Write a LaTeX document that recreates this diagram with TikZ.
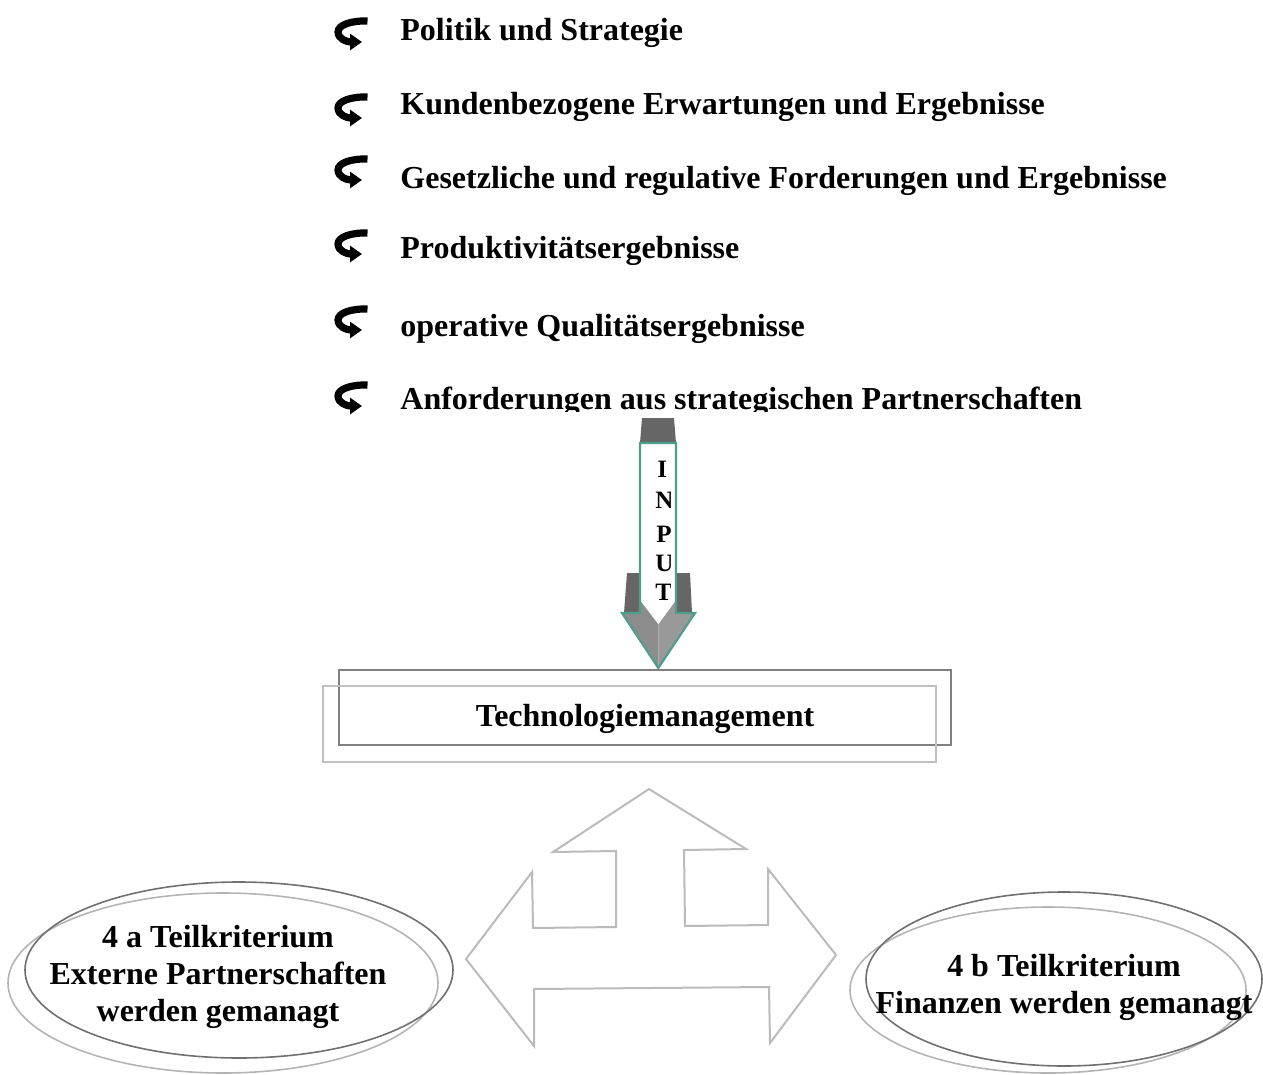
\documentclass[tikz,border=0pt]{standalone}
\usepackage{fontspec}
\setmainfont{Liberation Serif}
\usetikzlibrary{arrows.meta,shapes.geometric}
\definecolor{blockgray}{HTML}{666666}
\definecolor{headgray}{HTML}{8C8C8C}
\definecolor{headlight}{HTML}{999999}
\definecolor{tealline}{HTML}{4E9E8C}
\definecolor{boxdark}{HTML}{808080}
\definecolor{boxlight}{HTML}{C0C0C0}
\definecolor{arrowline}{HTML}{BBBBBB}
\definecolor{ovaldark}{HTML}{707070}
\definecolor{ovallight}{HTML}{B4B4B4}
\begin{document}
\begin{tikzpicture}[x=0.5pt,y=-0.5pt,
  lbl/.style={font=\fontsize{16}{18.5}\selectfont\bfseries, inner sep=0pt},
  itemtext/.style={lbl, anchor=base west},
  letter/.style={font=\fontsize{12.5}{14}\selectfont\bfseries, inner sep=0pt, anchor=base west},
  curlbullet/.pic={
    \draw[line width=3.6pt, line cap=butt, -{Triangle[length=6pt,width=8pt]}]
      (16.5,-11) .. controls (0,-11.5) and (-13,-7) .. (-13,0)
      .. controls (-13,7) and (-4,10) .. (11,10);
  },
  threeway/.style={draw=arrowline, line width=1pt, fill=white, line join=miter},
  ovalback/.style={draw=ovallight, line width=0.8pt},
  ovalfront/.style={draw=ovaldark, line width=0.8pt}
]
\useasboundingbox (0,0) rectangle (1263,1075);

% bullet list
\pic at (351,32) {curlbullet};
\pic at (351,108) {curlbullet};
\pic at (351,170) {curlbullet};
\pic at (351,244) {curlbullet};
\pic at (351,320) {curlbullet};
\pic at (351,396) {curlbullet};
\node[itemtext] (t1) at (400,41) {Politik und Strategie};
\node[itemtext] (t2) at (400,115) {Kundenbezogene Erwartungen und Ergebnisse};
\node[itemtext] (t3) at (400,189) {Gesetzliche und regulative Forderungen und Ergebnisse};
\node[itemtext] (t4) at (400,259) {Produktivitätsergebnisse};
\node[itemtext] (t5) at (400,336) {operative Qualitätsergebnisse};
\begin{scope}
  \clip (380,360) rectangle (1150,411);
  \node[itemtext] (t6) at (400,409) {Anforderungen aus strategischen Partnerschaften};
\end{scope}

% INPUT arrow
\fill[blockgray] (642,418) -- (674,418) -- (676,443) -- (640,443) -- cycle;
\fill[blockgray] (627,573) -- (640,573) -- (640,613) -- (624,613) -- cycle;
\fill[blockgray] (676,573) -- (690,573) -- (692,613) -- (676,613) -- cycle;
\fill[headgray] (622,613) -- (640,613) -- (640,600) -- (658.3,624) -- (658.3,668) -- cycle;
\fill[headlight] (658.3,624) -- (676,600) -- (676,613) -- (695,613) -- (658.3,668) -- cycle;
\fill[white] (640,443) -- (676,443) -- (676,600) -- (658.3,624) -- (640,600) -- cycle;
\draw[tealline, line width=1.1pt, line join=miter]
  (640,443) -- (640,613) -- (622,613) -- (658.3,668) -- (695,613) -- (676,613) -- (676,443) -- cycle;
\begin{scope}
  \clip (641,445) rectangle (670,610);
  \node[letter] (inI) at (657,477) {I};
  \node[letter] (inN) at (655,508) {N};
  \node[letter] (inP) at (656,542) {P};
  \node[letter] (inU) at (655,571) {U};
  \node[letter] (inT) at (655,600) {T};
\end{scope}

% Technologiemanagement box
\draw[boxdark, line width=1pt] (339,670) rectangle (951,745);
\draw[boxlight, line width=1pt] (323,686) rectangle (936,762);
\node[lbl, anchor=base] (tech) at (645,726) {Technologiemanagement};

% three-way arrow
\draw[threeway]
  (649,789) -- (746,849) -- (684,850) -- (685,926) -- (768,925) -- (768,869)
  -- (836,955) -- (770,1043) -- (769,987) -- (534,989) -- (534,1046)
  -- (466,959) -- (532,872) -- (533,928) -- (616,927) -- (616,851)
  -- (553,852) -- cycle;

% partner ovals
\draw[ovalback] (223,983) ellipse [x radius=215, y radius=90];
\draw[ovalfront] (239,970) ellipse [x radius=214, y radius=88];
\node[lbl, align=center] (pa) at (218,977) {4 a Teilkriterium\\Externe Partnerschaften\\werden gemanagt};

% finance ovals
\draw[ovalback] (1048,990) ellipse [x radius=198, y radius=83];
\draw[ovalfront] (1064,979) ellipse [x radius=198, y radius=87];
\node[lbl, align=center] (fi) at (1064,987) {4 b Teilkriterium\\Finanzen werden gemanagt};
\end{tikzpicture}
\end{document}
